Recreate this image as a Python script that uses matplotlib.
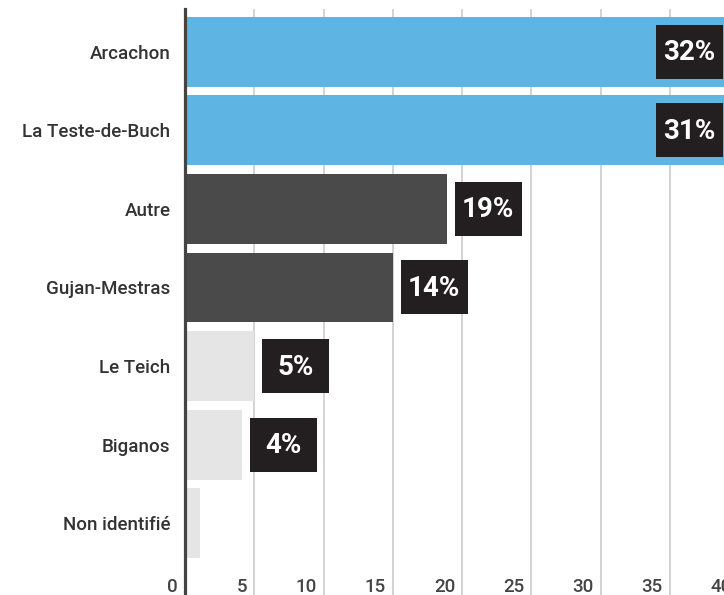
import matplotlib
matplotlib.use("Agg")
import matplotlib.pyplot as plt
from matplotlib import font_manager as fm
from matplotlib.patches import Rectangle
from matplotlib.transforms import Affine2D, ScaledTranslation

plt.rcParams['font.family'] = ['Roboto', 'DejaVu Sans']


def roboto(weight):
    # pick the static Roboto file of that weight if it is there
    for f in fm.fontManager.ttflist:
        if f.name == 'Roboto' and f.weight == weight and f.style == 'normal' \
                and '[' not in f.fname:
            return fm.FontProperties(fname=f.fname)
    return fm.FontProperties(family='Roboto', weight=weight)


communes = ["Arcachon", "La Teste-de-Buch", "Autre", "Gujan-Mestras",
            "Le Teich", "Biganos", "Non identifié"]
longueurs = [41.0, 41.0, 18.9, 15.0, 5.0, 4.1, 1.1]
etiquettes = ["32%", "31%", "19%", "14%", "5%", "4%", ""]
couleurs = ["#5eb5e4", "#5eb5e4", "#4a4a4a", "#4a4a4a",
            "#e5e5e5", "#e5e5e5", "#e5e5e5"]
graduations = [0, 5, 10, 15, 20, 25, 30, 35, 40]

medium = roboto(500)
medium.set_size(13.5)
bold = roboto(700)
bold.set_size(20)

W, H = 724, 595
fig = plt.figure(figsize=(W / 100, H / 100), dpi=100)
# axes deliberately run past the right and bottom edges (cropped look)
ax = fig.add_axes([185 / W, -5 / H, 554 / W, 591 / H])

pos = list(range(len(communes)))
ax.barh(pos, longueurs, height=0.89, color=couleurs, zorder=2)

ax.set_xlim(0, 40)
ax.set_ylim(6.976, -0.543)

ax.set_xticks(graduations)
ax.set_xticklabels([])
ax.grid(axis='x', color='#c8c8c8', linewidth=1.1, zorder=0)
ax.set_axisbelow(True)
ax.tick_params(axis='both', length=0)

ax.set_yticks(pos)
ax.set_yticklabels(communes, fontproperties=medium, color='#333333')
ax.tick_params(axis='y', pad=10.5)

for s in ['top', 'right', 'bottom']:
    ax.spines[s].set_visible(False)
ax.spines['left'].set_color('#444444')
ax.spines['left'].set_linewidth(2.3)
ax.spines['left'].set_zorder(5)

# tick labels sit inside the plot, left of each gridline
for t in graduations:
    ax.annotate(str(t), xy=(t, 6.874), xytext=(-7, 0), textcoords='offset pixels',
                ha='right', va='baseline', fontproperties=medium,
                color='#444444', annotation_clip=False)

# value labels: fixed-size dark boxes
bw, bh, gap = 67, 54, 8
xvis = (W - 185) / 554 * 40
for i, (v, lab) in enumerate(zip(longueurs, etiquettes)):
    if not lab:
        continue
    if v > xvis:
        anchor, dx = xvis, -(bw + 1)
    else:
        anchor, dx = v, gap
    tr = Affine2D() + ScaledTranslation(anchor, i, ax.transData)
    ax.add_patch(Rectangle((dx, -bh / 2), bw, bh, transform=tr,
                           facecolor='#231f20', edgecolor='none', zorder=6,
                           clip_on=False))
    ax.annotate(lab, xy=(anchor, i), xytext=(dx + bw / 2, -1),
                textcoords='offset pixels', ha='center', va='center',
                fontproperties=bold, color='white', zorder=7,
                annotation_clip=False)

fig.savefig("out.png", dpi=100)
